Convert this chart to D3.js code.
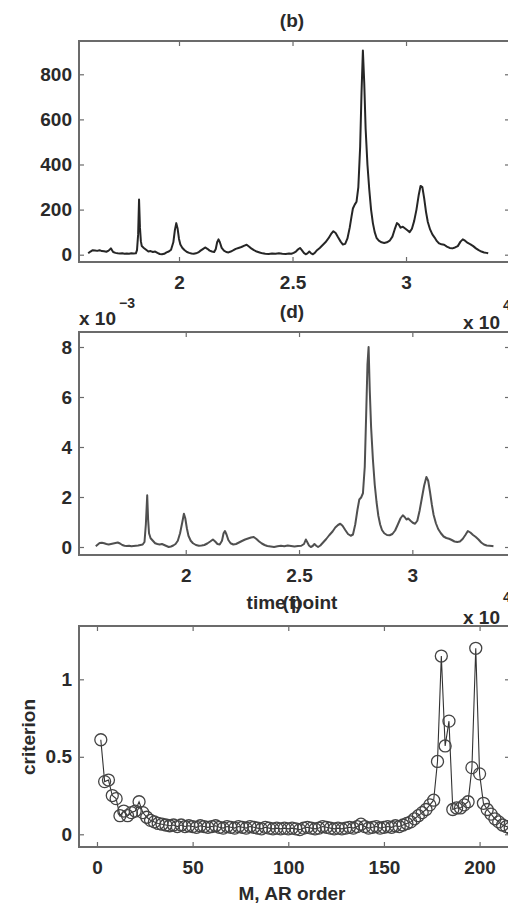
<!DOCTYPE html>
<html>
<head>
<meta charset="utf-8">
<script src="https://cdn.jsdelivr.net/npm/d3@7/dist/d3.min.js"></script>
<style>
  html, body { margin: 0; padding: 0; background: #fff; }
  svg { display: block; }
  text { font-family: "Liberation Sans", Arial, Helvetica, sans-serif; font-weight: bold; fill: #2a2a2a; }
</style>
</head>
<body>
<svg id="fig" width="508" height="907"></svg>
<script>
// ---- (b) raw spectrum: time (x 10^4) and intensity ----
const bTime = [1.600,1.610,1.620,1.630,1.640,1.650,1.660,1.670,1.680,1.690,1.700,1.705,1.710,1.720,1.730,1.740,1.750,1.760,1.770,1.780,1.790,1.800,1.810,1.815,1.820,1.824,1.828,1.832,1.836,1.845,1.855,1.865,1.875,1.885,1.895,1.905,1.915,1.925,1.935,1.945,1.955,1.965,1.975,1.982,1.988,1.994,2.000,2.006,2.015,2.025,2.035,2.045,2.055,2.065,2.075,2.085,2.095,2.105,2.115,2.125,2.135,2.145,2.155,2.162,2.168,2.174,2.180,2.188,2.198,2.208,2.218,2.228,2.240,2.250,2.262,2.275,2.288,2.298,2.308,2.318,2.330,2.342,2.355,2.368,2.380,2.395,2.410,2.425,2.440,2.455,2.470,2.485,2.495,2.505,2.515,2.525,2.533,2.541,2.550,2.558,2.566,2.574,2.582,2.590,2.598,2.608,2.620,2.632,2.645,2.658,2.670,2.680,2.690,2.700,2.712,2.722,2.732,2.742,2.752,2.760,2.766,2.774,2.782,2.790,2.798,2.804,2.810,2.816,2.822,2.830,2.838,2.846,2.854,2.862,2.870,2.880,2.892,2.904,2.916,2.928,2.940,2.950,2.960,2.968,2.976,2.986,2.996,3.006,3.016,3.026,3.036,3.046,3.056,3.064,3.072,3.080,3.088,3.096,3.106,3.116,3.126,3.136,3.146,3.156,3.168,3.180,3.192,3.204,3.216,3.228,3.240,3.250,3.260,3.272,3.284,3.296,3.308,3.320,3.332,3.344,3.354,3.362];
const bSignal = [6,14,20,19,17,20,16,15,13,18,28,20,12,8,6,5,6,4,5,4,6,5,6,20,90,245,120,60,38,30,22,14,16,12,14,8,3,2,4,10,14,22,55,110,140,115,70,45,30,20,12,8,5,4,6,10,18,25,32,26,18,14,12,25,55,68,55,30,18,12,10,14,20,26,30,34,40,44,36,28,20,14,10,6,4,3,5,4,6,4,3,5,4,8,14,24,30,20,8,2,6,14,6,2,8,20,30,42,55,72,92,104,96,78,58,45,48,72,120,170,205,222,235,300,480,720,905,760,560,400,290,200,140,100,75,62,55,52,55,62,80,112,140,134,120,124,116,108,100,115,150,200,265,305,300,250,190,145,112,90,76,60,50,46,44,36,30,28,32,38,58,68,62,52,46,38,28,20,14,10,8,6];

// ---- (d) filtered spectrum: time (x 10^4) and value (x 10^-3) ----
const dTime = [1.603,1.612,1.620,1.630,1.640,1.650,1.660,1.670,1.680,1.690,1.700,1.710,1.720,1.730,1.740,1.750,1.760,1.770,1.780,1.790,1.800,1.810,1.818,1.824,1.830,1.834,1.838,1.845,1.855,1.865,1.875,1.885,1.895,1.905,1.915,1.925,1.935,1.945,1.955,1.965,1.975,1.985,1.992,1.998,2.005,2.012,2.022,2.032,2.045,2.058,2.070,2.082,2.095,2.108,2.120,2.130,2.140,2.150,2.160,2.167,2.173,2.180,2.188,2.198,2.210,2.222,2.235,2.248,2.262,2.275,2.288,2.300,2.312,2.324,2.336,2.348,2.360,2.375,2.390,2.405,2.420,2.435,2.450,2.465,2.480,2.495,2.510,2.522,2.530,2.536,2.544,2.552,2.560,2.568,2.576,2.584,2.594,2.606,2.620,2.634,2.648,2.660,2.672,2.682,2.692,2.704,2.716,2.728,2.738,2.748,2.758,2.766,2.774,2.782,2.790,2.796,2.802,2.807,2.812,2.818,2.826,2.834,2.842,2.850,2.858,2.866,2.876,2.888,2.900,2.912,2.924,2.936,2.948,2.958,2.966,2.974,2.982,2.992,3.002,3.012,3.022,3.032,3.042,3.052,3.062,3.070,3.078,3.086,3.094,3.104,3.114,3.126,3.138,3.150,3.162,3.174,3.186,3.198,3.210,3.222,3.234,3.245,3.256,3.268,3.280,3.292,3.304,3.316,3.328,3.340,3.352,3.358];
const dValue = [0.03,0.10,0.16,0.17,0.15,0.12,0.10,0.12,0.14,0.16,0.18,0.14,0.08,0.05,0.04,0.05,0.03,0.04,0.05,0.06,0.08,0.10,0.20,0.90,2.07,1.10,0.55,0.35,0.25,0.15,0.12,0.10,0.12,0.08,0.04,0.00,0.02,0.06,0.12,0.25,0.55,1.00,1.33,1.15,0.75,0.45,0.25,0.15,0.08,0.05,0.06,0.08,0.14,0.22,0.30,0.22,0.12,0.10,0.25,0.55,0.64,0.50,0.28,0.15,0.10,0.12,0.18,0.24,0.30,0.34,0.38,0.40,0.32,0.22,0.14,0.08,0.04,0.02,0.00,0.03,0.05,0.03,0.06,0.04,0.02,0.04,0.05,0.12,0.30,0.20,0.06,0.00,0.04,0.12,0.05,0.00,0.06,0.18,0.32,0.48,0.62,0.78,0.88,0.93,0.85,0.68,0.52,0.45,0.50,0.90,1.50,1.90,1.98,2.15,3.20,5.20,7.30,8.00,6.30,4.80,3.50,2.50,1.80,1.25,0.90,0.68,0.55,0.48,0.47,0.52,0.66,0.90,1.15,1.27,1.20,1.10,1.14,1.05,0.97,0.93,1.05,1.45,1.95,2.45,2.80,2.65,2.20,1.70,1.28,0.95,0.72,0.55,0.42,0.36,0.33,0.28,0.22,0.20,0.22,0.32,0.48,0.64,0.58,0.48,0.40,0.30,0.18,0.10,0.06,0.05,0.04,0.03];

// ---- (f) order-selection criterion (x 10^4) against AR order M ----
const arOrder = [2,4,6,8,10,12,14,16,18,20,22,24,26,28,30,32,34,36,38,40,42,44,46,48,50,52,54,56,58,60,62,64,66,68,70,72,74,76,78,80,82,84,86,88,90,92,94,96,98,100,102,104,106,108,110,112,114,116,118,120,122,124,126,128,130,132,134,136,138,140,142,144,146,148,150,152,154,156,158,160,162,164,166,168,170,172,174,176,178,180,182,184,186,188,190,192,194,196,198,200,202,204,206,208,210,212,214,216];
const criterion = [0.61,0.34,0.35,0.25,0.23,0.12,0.15,0.12,0.14,0.15,0.21,0.14,0.11,0.09,0.08,0.07,0.065,0.06,0.055,0.06,0.05,0.06,0.05,0.055,0.05,0.045,0.055,0.05,0.045,0.05,0.055,0.045,0.04,0.05,0.045,0.04,0.05,0.045,0.04,0.05,0.045,0.04,0.035,0.045,0.04,0.035,0.04,0.035,0.04,0.035,0.04,0.035,0.03,0.04,0.045,0.04,0.035,0.04,0.05,0.045,0.04,0.035,0.04,0.035,0.04,0.045,0.04,0.05,0.065,0.05,0.04,0.045,0.05,0.04,0.045,0.05,0.045,0.055,0.05,0.06,0.07,0.08,0.10,0.12,0.14,0.16,0.19,0.22,0.47,1.15,0.57,0.73,0.16,0.17,0.17,0.19,0.21,0.43,1.20,0.39,0.20,0.16,0.13,0.10,0.08,0.06,0.05,0.04];

// ---- tick values ----
const timeTicks = [2, 2.5, 3];
const bYTicks = [0, 200, 400, 600, 800];
const dYTicks = [0, 2, 4, 6, 8];
const fXTicks = [0, 50, 100, 150, 200];
const fYTicks = [0, 0.5, 1];

const svg = d3.select("#fig");
const FONT = 19;
const BOX_COLOR = "#6b6b6b";
const LEFT = 79, RIGHT = 510;

// Draws a MATLAB-style boxed axes with inward ticks on all four sides.
function boxedAxes(cfg) {
  const x = d3.scaleLinear().domain(cfg.xDomain).range([LEFT, RIGHT]);
  const y = d3.scaleLinear().domain(cfg.yDomain).range([cfg.bottom, cfg.top]);
  const g = svg.append("g");
  const clipId = "clip" + cfg.id;
  svg.append("clipPath").attr("id", clipId)
    .append("rect").attr("x", LEFT).attr("y", cfg.top)
    .attr("width", RIGHT - LEFT).attr("height", cfg.bottom - cfg.top);

  const styleAxis = sel => {
    sel.select(".domain").remove();
    sel.selectAll(".tick line").attr("stroke", BOX_COLOR).attr("stroke-width", 1.2);
    sel.selectAll(".tick text").attr("font-size", FONT).attr("fill", "#2a2a2a");
  };
  g.append("g").attr("transform", `translate(0,${cfg.bottom})`)
    .call(d3.axisBottom(x).tickValues(cfg.xTicks).tickFormat(d3.format("~g"))
      .tickSizeInner(-5).tickSizeOuter(0).tickPadding(14)).call(styleAxis);
  g.append("g").attr("transform", `translate(0,${cfg.top})`)
    .call(d3.axisTop(x).tickValues(cfg.xTicks).tickFormat("")
      .tickSizeInner(-5).tickSizeOuter(0)).call(styleAxis);
  g.append("g").attr("transform", `translate(${LEFT},0)`)
    .call(d3.axisLeft(y).tickValues(cfg.yTicks).tickFormat(d3.format("~g"))
      .tickSizeInner(-5).tickSizeOuter(0).tickPadding(7)).call(styleAxis);
  g.append("g").attr("transform", `translate(${RIGHT},0)`)
    .call(d3.axisRight(y).tickValues(cfg.yTicks).tickFormat("")
      .tickSizeInner(-5).tickSizeOuter(0)).call(styleAxis);

  g.append("rect").attr("x", LEFT).attr("y", cfg.top)
    .attr("width", RIGHT - LEFT).attr("height", cfg.bottom - cfg.top)
    .attr("fill", "none").attr("stroke", BOX_COLOR).attr("stroke-width", 2);

  const plot = svg.append("g").attr("clip-path", `url(#${clipId})`);
  return { x, y, plot };
}

function label(txt, x, y, opts = {}) {
  return svg.append("text").attr("x", x).attr("y", y)
    .attr("text-anchor", opts.anchor || "middle")
    .attr("dominant-baseline", "central")
    .attr("font-size", opts.size || FONT)
    .attr("transform", opts.rotate ? `rotate(${opts.rotate},${x},${y})` : null)
    .text(txt);
}

// ---- panel (b) ----
const pb = boxedAxes({ id: "b", top: 41, bottom: 262, xDomain: [1.5595, 3.458], yDomain: [-32.4, 947.6],
  xTicks: timeTicks, yTicks: bYTicks });
pb.plot.append("path")
  .datum(bTime.map((t, i) => [t, bSignal[i]]))
  .attr("fill", "none").attr("stroke", "#262626").attr("stroke-width", 2).attr("stroke-linejoin", "round")
  .attr("d", d3.line().x(d => pb.x(d[0])).y(d => pb.y(d[1])));
label("(b)", 292, 20);

// ---- panel (d) ----
const pd = boxedAxes({ id: "d", top: 332, bottom: 555, xDomain: [1.529, 3.431], yDomain: [-0.32, 8.6],
  xTicks: timeTicks, yTicks: dYTicks });
pd.plot.append("path")
  .datum(dTime.map((t, i) => [t, dValue[i]]))
  .attr("fill", "none").attr("stroke", "#505050").attr("stroke-width", 2).attr("stroke-linejoin", "round")
  .attr("d", d3.line().x(d => pd.x(d[0])).y(d => pd.y(d[1])));
label("(d)", 292, 311.5);
label("x 10", 79, 318, { anchor: "start" });
label("\u22123", 119, 303, { anchor: "start", size: 14 });
label("x 10", 500, 322.5, { anchor: "end" });
label("4", 503, 305, { anchor: "start", size: 14 });

// ---- panel (f) ----
const pf = boxedAxes({ id: "f", top: 626, bottom: 847, xDomain: [-9.4, 215.9], yDomain: [-0.082, 1.344],
  xTicks: fXTicks, yTicks: fYTicks });
const fPts = arOrder.map((m, i) => [m, criterion[i]]);
pf.plot.append("path").datum(fPts)
  .attr("fill", "none").attr("stroke", "#333").attr("stroke-width", 1.1)
  .attr("d", d3.line().x(d => pf.x(d[0])).y(d => pf.y(d[1])));
pf.plot.selectAll("circle.mk").data(fPts).enter().append("circle")
  .attr("class", "mk")
  .attr("cx", d => pf.x(d[0])).attr("cy", d => pf.y(d[1])).attr("r", 6)
  .attr("fill", "none").attr("stroke", "#444").attr("stroke-width", 1.3);

label("time point", 292, 602.5);
label("(f)", 292, 602.5);
label("x 10", 500, 617.5, { anchor: "end" });
label("4", 503, 597, { anchor: "start", size: 14 });
label("criterion", 28, 737, { rotate: -90 });
label("M, AR order", 292, 893);
</script>
</body>
</html>
